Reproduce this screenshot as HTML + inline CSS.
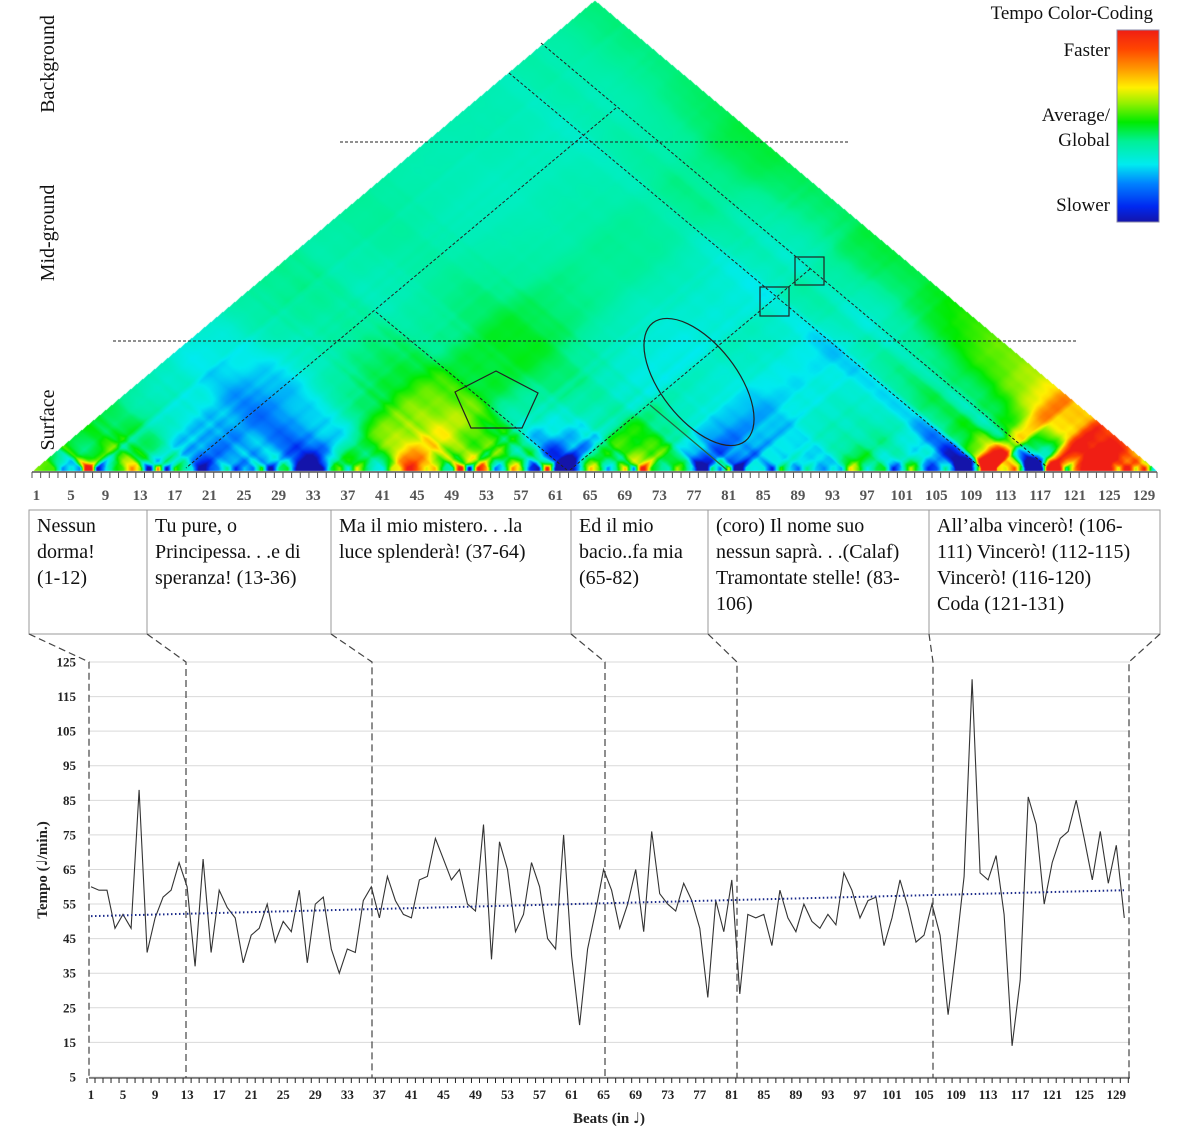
<!DOCTYPE html>
<html><head><meta charset="utf-8">
<style>
html,body{margin:0;padding:0;background:#fff;}
#wrap{position:relative;width:1188px;height:1131px;overflow:hidden;font-family:"Liberation Serif",serif;}
canvas{position:absolute;left:0;top:0;}
svg{position:absolute;left:0;top:0;}
.box{position:absolute;top:513px;font-size:20px;line-height:26px;color:#111;white-space:nowrap;}
</style></head><body>
<div id="wrap">
<canvas id="hm" width="1188" height="480"></canvas>
<svg id="sv" width="1188" height="1131" xmlns="http://www.w3.org/2000/svg">
<defs>
<linearGradient id="cb" x1="0" y1="1" x2="0" y2="0">
<stop offset="0" stop-color="rgb(20,20,170)"/>
<stop offset="0.08" stop-color="rgb(0,40,240)"/>
<stop offset="0.2" stop-color="rgb(0,130,255)"/>
<stop offset="0.3" stop-color="rgb(0,235,240)"/>
<stop offset="0.42" stop-color="rgb(0,240,150)"/>
<stop offset="0.52" stop-color="rgb(0,235,0)"/>
<stop offset="0.62" stop-color="rgb(150,240,0)"/>
<stop offset="0.7" stop-color="rgb(255,240,0)"/>
<stop offset="0.8" stop-color="rgb(255,150,0)"/>
<stop offset="0.9" stop-color="rgb(255,70,0)"/>
<stop offset="1" stop-color="rgb(240,30,20)"/>
</linearGradient>
</defs>
<rect x="1117" y="30" width="42" height="192" fill="url(#cb)" stroke="#88a" stroke-width="1"/>
<g font-family="Liberation Serif,serif" font-size="19" fill="#111" text-anchor="end">
<text x="1153" y="19" text-anchor="end">Tempo Color-Coding</text>
<text x="1110" y="56">Faster</text>
<text x="1110" y="121">Average/</text>
<text x="1110" y="146">Global</text>
<text x="1110" y="211">Slower</text>
</g>
<g font-family="Liberation Serif,serif" font-size="20" fill="#111" text-anchor="middle">
<text transform="translate(54,64) rotate(-90)">Background</text>
<text transform="translate(54,233) rotate(-90)">Mid-ground</text>
<text transform="translate(54,420) rotate(-90)">Surface</text>
</g>
<g stroke="#222" stroke-width="1" stroke-dasharray="3,2" fill="none">
<line x1="340" y1="142" x2="850" y2="142"/>
<line x1="113" y1="341" x2="1076" y2="341"/>
<line x1="541" y1="43" x2="1047" y2="467"/>
<line x1="509" y1="73" x2="980" y2="467"/>
<line x1="616" y1="108" x2="186" y2="468"/>
<line x1="376" y1="312" x2="567" y2="470"/>
<line x1="570" y1="470" x2="810" y2="269"/>
</g>
<g stroke="#222" stroke-width="1.2" fill="none">
<line x1="650" y1="405" x2="727" y2="470" stroke="#264"/>
<rect x="795" y="257" width="29" height="28"/>
<rect x="760" y="287" width="29" height="29"/>
<ellipse cx="699" cy="382" rx="75" ry="38" transform="rotate(52 699 382)"/>
<polygon points="496,371 538,393 522,428 471,428 455,392"/>
</g>
<g id="topaxis"></g>
<g stroke="#999" stroke-width="1" fill="none">
<rect x="29" y="510" width="1131" height="124"/>
<line x1="147" y1="510" x2="147" y2="634"/>
<line x1="331" y1="510" x2="331" y2="634"/>
<line x1="571" y1="510" x2="571" y2="634"/>
<line x1="708" y1="510" x2="708" y2="634"/>
<line x1="929" y1="510" x2="929" y2="634"/>
</g>
<g id="chart"></g>
<g font-family="Liberation Serif,serif" font-size="15" font-weight="bold" fill="#222" text-anchor="middle">
<text x="609" y="1123">Beats (in <tspan font-family="DejaVu Sans,sans-serif" font-weight="normal">♩</tspan>)</text>
<text transform="translate(47,870) rotate(-90)">Tempo (<tspan font-family="DejaVu Sans,sans-serif" font-weight="normal">♩</tspan>/min.)</text>
</g>
</svg>
<div class="box" style="left:37px">Nessun<br>dorma!<br>(1-12)</div>
<div class="box" style="left:155px">Tu pure, o<br>Principessa. . .e di<br>speranza! (13-36)</div>
<div class="box" style="left:339px">Ma il mio mistero. . .la<br>luce splenderà! (37-64)</div>
<div class="box" style="left:579px">Ed il mio<br>bacio..fa mia<br>(65-82)</div>
<div class="box" style="left:716px">(coro) Il nome suo<br>nessun saprà. . .(Calaf)<br>Tramontate stelle! (83-<br>106)</div>
<div class="box" style="left:937px">All’alba vincerò! (106-<br>111) Vincerò! (112-115)<br>Vincerò! (116-120)<br>Coda (121-131)</div>
</div>
<script>
var D=[60,59,59,48,52,48,88,41,51,57,59,67,60,37,68,41,59,54,51,38,46,48,55,44,50,47,59,38,55,57,42,35,42,41,56,60,51,63,56,52,51,62,63,74,68,62,65,55,53,78,39,73,65,47,52,67,60,45,42,75,40,20,42,53,65,59,48,55,65,47,76,58,55,53,61,56,48,28,56,47,62,29,52,51,52,43,59,51,47,55,50,48,52,49,64,59,51,56,57,43,51,62,54,44,46,55,46,23,42,63,120,64,62,69,52,14,33,86,78,55,67,74,76,85,74,62,76,61,72,51];
var N=D.length;var CS=[0];for(var i=0;i<N;i++)CS.push(CS[i]+D[i]);
var G=CS[N]/N;
function cs(x){if(x<=0)return 0;if(x>=N)return CS[N];var i=Math.floor(x);return CS[i]+(x-i)*D[i];}
var stops=[[0,20,20,170],[0.08,0,40,240],[0.2,0,130,255],[0.3,0,235,240],[0.42,0,240,150],[0.52,0,235,0],[0.62,150,240,0],[0.7,255,240,0],[0.8,255,150,0],[0.9,255,70,0],[1,240,30,20]];
function cmap(t){t=Math.max(0,Math.min(1,t));for(var k=1;k<stops.length;k++){if(t<=stops[k][0]){var a=stops[k-1],b=stops[k],f=(t-a[0])/(b[0]-a[0]);return [a[1]+f*(b[1]-a[1]),a[2]+f*(b[2]-a[2]),a[3]+f*(b[3]-a[3])];}}return [240,30,20];}
var cv=document.getElementById('hm'),ctx=cv.getContext('2d');
var img=ctx.createImageData(1188,480);var X0=32,Y0=471,W=(1157-32)/N,H=Y0;
var S=30;
for(var py=0;py<Y0;py++){
 var sf=(Y0-py)/H*N; var s=sf<1?1:sf;
 for(var px=0;px<1188;px++){
  var c=(px-X0)/W;
  if(c-sf/2<0||c+sf/2>N)continue;
  var a=c-s/2,b=c+s/2;
  if(a<0){a=0;b=Math.min(N,s);} if(b>N){b=N;a=Math.max(0,N-s);}
  var m=(cs(b)-cs(a))/(b-a);
  var col=cmap(0.44+(m-G)/S);
  var o=(py*1188+px)*4;img.data[o]=col[0];img.data[o+1]=col[1];img.data[o+2]=col[2];img.data[o+3]=255;
 }
}
ctx.putImageData(img,0,0);
var NS='http://www.w3.org/2000/svg';
function el(p,n,at,txt){var e=document.createElementNS(NS,n);for(var k in at)e.setAttribute(k,at[k]);if(txt!=null)e.textContent=txt;p.appendChild(e);return e;}
var ta=document.getElementById('topaxis');
el(ta,'line',{x1:32,y1:472,x2:1157,y2:472,stroke:'#555','stroke-width':1.5});
for(var i=0;i<=N;i++){var x=X0+i*W;el(ta,'line',{x1:x,y1:472,x2:x,y2:478,stroke:'#555','stroke-width':1});}
for(var b=1;b<=129;b+=4){el(ta,'text',{x:X0+(b-0.5)*W,y:500,'text-anchor':'middle','font-family':'Liberation Serif,serif','font-size':15,'font-weight':'bold',fill:'#555'},String(b));}
var ch=document.getElementById('chart');
function vy(v){return 662+(125-v)*3.458;}
function bx(b){return 91+(b-1)*8.01;}
for(var v=5;v<=125;v+=10){el(ch,'line',{x1:89,y1:vy(v),x2:1130,y2:vy(v),stroke:'#d9d9d9','stroke-width':1});
 el(ch,'text',{x:76,y:vy(v)+4.5,'text-anchor':'end','font-family':'Liberation Serif,serif','font-size':13,'font-weight':'bold',fill:'#222'},String(v));}
el(ch,'line',{x1:89,y1:1078,x2:1130,y2:1078,stroke:'#222','stroke-width':1});
for(var b=0;b<=N;b++){var x=bx(b+0.5);el(ch,'line',{x1:x,y1:1078,x2:x,y2:1083,stroke:'#222','stroke-width':1});}
for(var b=1;b<=129;b+=4){el(ch,'text',{x:bx(b),y:1099,'text-anchor':'middle','font-family':'Liberation Serif,serif','font-size':13,'font-weight':'bold',fill:'#222'},String(b));}
var con=[[29,89],[147,186],[331,372],[571,605],[708,737],[929,933],[1160,1129]];
con.forEach(function(p){el(ch,'path',{d:'M'+p[0]+' 634 L'+p[1]+' 662 L'+p[1]+' 1078',stroke:'#444','stroke-width':1.2,'stroke-dasharray':'7,4',fill:'none'});});
var pts=D.map(function(v,i){return bx(i+1).toFixed(1)+','+vy(v).toFixed(1);}).join(' ');
el(ch,'polyline',{points:pts,fill:'none',stroke:'#333','stroke-width':1.1});
el(ch,'line',{x1:91,y1:vy(51.5),x2:1124,y2:vy(59),stroke:'#1a2a8a','stroke-width':2,'stroke-dasharray':'1.5,2.5'});
</script>
</body></html>
